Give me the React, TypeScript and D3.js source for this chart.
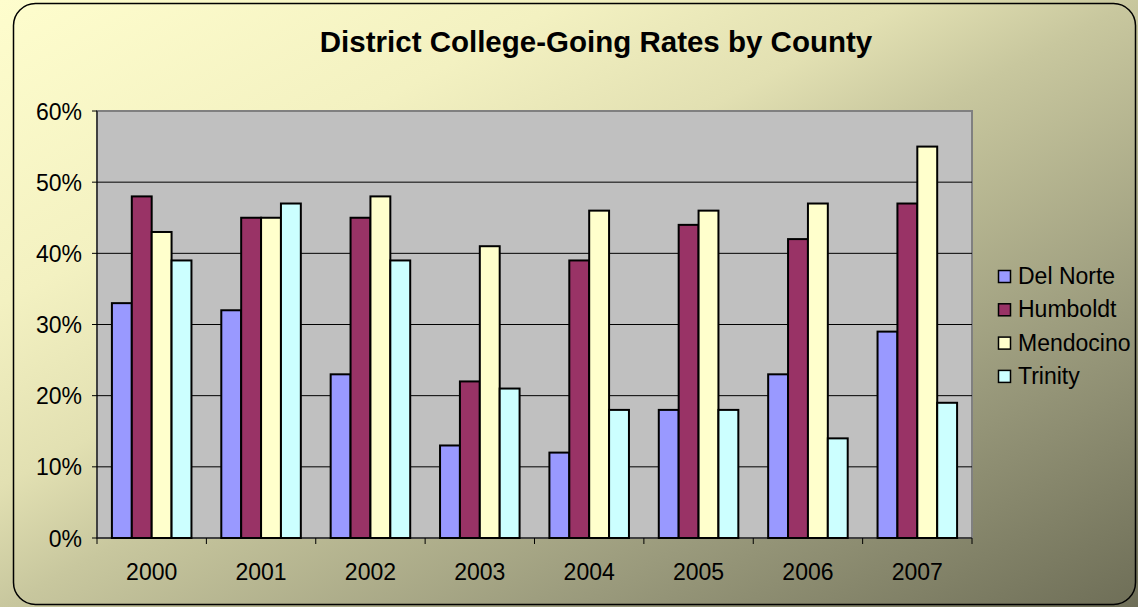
import React from "react";
import * as d3 from "d3";

const years = ["2000", "2001", "2002", "2003", "2004", "2005", "2006", "2007"];
const seriesNames = ["Del Norte", "Humboldt", "Mendocino", "Trinity"];
const delNorte = [33, 32, 23, 13, 12, 18, 23, 29];
const humboldt = [48, 45, 45, 22, 39, 44, 42, 47];
const mendocino = [43, 45, 48, 41, 46, 46, 47, 55];
const trinity = [39, 47, 39, 21, 18, 18, 14, 19];
const yTicks = [0, 10, 20, 30, 40, 50, 60];
const colors = ["#9999FF", "#993366", "#FFFFCC", "#CCFFFF"];

const seriesValues = [delNorte, humboldt, mendocino, trinity];

export default function App() {
  const W = 1138, H = 607;
  const left = 97, right = 972, top = 111, bottom = 538;
  const x = d3.scaleBand<string>().domain(years).range([left, right]).paddingInner(0).paddingOuter(0);
  const y = d3.scaleLinear().domain([0, 60]).range([bottom, top]);
  const groupW = x.bandwidth();
  const barW = groupW / 5.5;
  const xs = d3.scaleBand<string>().domain(seriesNames).range([0, barW * 4]);
  const font = "Liberation Sans, Arial, sans-serif";

  return (
    <svg width={W} height={H} style={{ position: "absolute", left: 0, top: 0 }}>
      <defs>
        <linearGradient id="bg" x1="0" y1="0" x2="1" y2="1">
          <stop offset="0" stopColor="#FEFDCD" />
          <stop offset="0.25" stopColor="#F3F1C1" />
          <stop offset="0.4" stopColor="#E2E0B2" />
          <stop offset="0.5" stopColor="#C8C79E" />
          <stop offset="0.75" stopColor="#9A9A7C" />
          <stop offset="1" stopColor="#6E6E57" />
        </linearGradient>
      </defs>
      <rect x={0} y={0} width={W} height={H} fill="url(#bg)" />
      <rect x={13.5} y={3.5} width={1122} height={601} rx={22} ry={22} fill="none" stroke="#000" strokeWidth={1.5} />
      <text x={596} y={52} textAnchor="middle" fontFamily={font} fontWeight="bold" fontSize={29.5} fill="#000">
        District College-Going Rates by County
      </text>
      <rect x={left} y={top} width={right - left} height={bottom - top} fill="#C0C0C0" stroke="#808080" strokeWidth={2} />
      {yTicks.map((t) => (
        <g key={t}>
          {t > 0 && t < 60 && (
            <line x1={left} x2={right} y1={y(t)} y2={y(t)} stroke="#000" strokeWidth={1} />
          )}
          <line x1={left - 5} x2={left} y1={y(t)} y2={y(t)} stroke="#000" strokeWidth={1} />
          <text x={82} y={y(t) + 8.5} textAnchor="end" fontFamily={font} fontSize={23} fill="#000">
            {t}%
          </text>
        </g>
      ))}
      {years.map((yr, i) => (
        <g key={yr}>
          {seriesValues.map((vals, s) => (
            <rect
              key={s}
              x={(x(yr) as number) + barW * 0.75 + (xs(seriesNames[s]) as number)}
              y={y(vals[i])}
              width={barW}
              height={y(0) - y(vals[i])}
              fill={colors[s]}
              stroke="#000"
              strokeWidth={2}
            />
          ))}
          <text x={(x(yr) as number) + groupW / 2} y={580} textAnchor="middle" fontFamily={font} fontSize={23} fill="#000">
            {yr}
          </text>
        </g>
      ))}
      <line x1={left} x2={left} y1={top} y2={bottom} stroke="#000" strokeWidth={1} />
      <line x1={left} x2={right} y1={bottom} y2={bottom} stroke="#000" strokeWidth={1} />
      {d3.range(years.length + 1).map((k) => (
        <line key={k} x1={left + k * groupW} x2={left + k * groupW} y1={bottom} y2={bottom + 6} stroke="#000" strokeWidth={1} />
      ))}
      {seriesNames.map((n, s) => (
        <g key={n}>
          <rect x={998.5} y={270.5 + s * 33.3} width={12} height={12} fill={colors[s]} stroke="#000" strokeWidth={1.5} />
          <text x={1018} y={284 + s * 33.3} fontFamily={font} fontSize={23} fill="#000">
            {n}
          </text>
        </g>
      ))}
    </svg>
  );
}
